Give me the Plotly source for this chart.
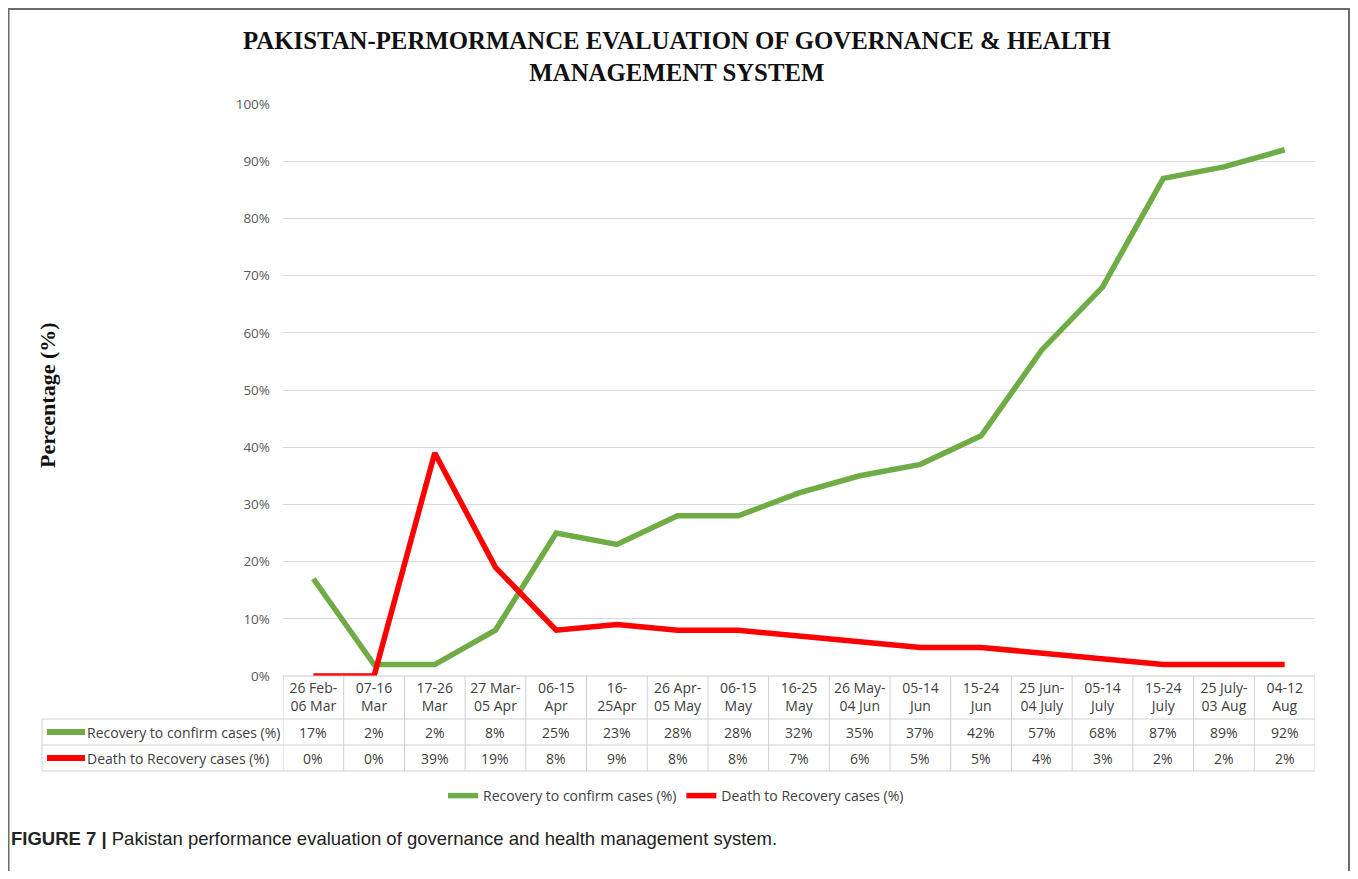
import plotly.graph_objects as go

# Page body has an 8px margin; draw the figure offset so the result lines up with the reference.
OFF = 8
W, H = 1358 - 2 * OFF, 879 - 2 * OFF

periods = ["26 Feb-<br>06 Mar", "07-16<br>Mar", "17-26<br>Mar", "27 Mar-<br>05 Apr", "06-15<br>Apr",
           "16-<br>25Apr", "26 Apr-<br>05 May", "06-15<br>May", "16-25<br>May", "26 May-<br>04 Jun",
           "05-14<br>Jun", "15-24<br>Jun", "25 Jun-<br>04 July", "05-14<br>July", "15-24<br>July",
           "25 July-<br>03 Aug", "04-12<br>Aug"]
recovery = [17, 2, 2, 8, 25, 23, 28, 28, 32, 35, 37, 42, 57, 68, 87, 89, 92]
death = [0, 0, 39, 19, 8, 9, 8, 8, 7, 6, 5, 5, 4, 3, 2, 2, 2]
series_names = ["Recovery to confirm cases (%)", "Death to Recovery cases (%)"]
series_colors = ["#6FAC46", "#FF0000"]
yticks = list(range(0, 101, 10))
yticktext = [f"{v}%" for v in yticks]

title_text = "<b>PAKISTAN-PERMORMANCE EVALUATION OF GOVERNANCE &amp; HEALTH<br>MANAGEMENT SYSTEM</b>"
ylabel = "Percentage (%)"
caption_bold = "FIGURE 7 |"
caption_rest = " Pakistan performance evaluation of governance and health management system."

def px(x):
    return (x - OFF) / W

def py(y):
    return 1 - (y - OFF) / H

TXT = "#404040"
TFONT = "'Open Sans', Lato, sans-serif"

fig = go.Figure()
for name, vals, col in zip(series_names, [recovery, death], series_colors):
    fig.add_trace(go.Scatter(x=list(range(len(periods))), y=vals, mode="lines", name=name,
                             line=dict(color=col, width=5.5), cliponaxis=False))

shapes = []
# frame (left, top, right edges)
frame_col = "#6b6b6b"
shapes.append(dict(type="line", xref="paper", yref="paper", x0=px(8.5), x1=px(8.5), y0=py(8), y1=0,
                   line=dict(color=frame_col, width=2)))
shapes.append(dict(type="line", xref="paper", yref="paper", x0=px(8), x1=1, y0=py(9), y1=py(9),
                   line=dict(color=frame_col, width=2)))
shapes.append(dict(type="line", xref="paper", yref="paper", x0=1 - 1.0 / W, x1=1 - 1.0 / W, y0=py(8), y1=0,
                   line=dict(color=frame_col, width=2)))
grid_col = "#d0d0d0"
n = len(periods)
for i in range(n + 1):
    shapes.append(dict(type="line", xref="x", yref="paper", x0=i - 0.5, x1=i - 0.5,
                       y0=py(676), y1=py(771), line=dict(color=grid_col, width=1)))
shapes.append(dict(type="line", xref="paper", yref="paper", x0=px(42), x1=px(42),
                   y0=py(719), y1=py(771), line=dict(color=grid_col, width=1)))
for yy in [719, 745, 771]:
    shapes.append(dict(type="line", xref="paper", yref="paper", x0=px(42), x1=px(1315),
                       y0=py(yy), y1=py(yy), line=dict(color=grid_col, width=1)))
shapes.append(dict(type="line", xref="paper", yref="paper", x0=px(283), x1=px(1315),
                   y0=py(676), y1=py(676), line=dict(color="#c8c8c8", width=1)))
for yy, col in zip([732, 758], series_colors):
    shapes.append(dict(type="line", xref="paper", yref="paper", x0=px(47), x1=px(85),
                       y0=py(yy), y1=py(yy), line=dict(color=col, width=6)))

annotations = []
annotations.append(dict(text=title_text, xref="paper", yref="paper", x=px(677), y=py(56),
                        xanchor="center", yanchor="middle", showarrow=False,
                        font=dict(family="'Liberation Serif', 'DejaVu Serif', serif", size=24.8, color="#111"),
                        align="center"))
annotations.append(dict(text="<b>" + ylabel + "</b>", xref="paper", yref="paper", x=px(47), y=py(395),
                        textangle=-90, showarrow=False, xanchor="center", yanchor="middle",
                        font=dict(family="'Liberation Serif', serif", size=22, color="#111")))
for ri, (vals, yy) in enumerate(zip([recovery, death], [732, 758])):
    annotations.append(dict(text=series_names[ri], xref="paper", yref="paper", x=px(85), y=py(yy),
                            xanchor="left", yanchor="middle", showarrow=False,
                            font=dict(family=TFONT, size=14, color=TXT)))
    for i, v in enumerate(vals):
        annotations.append(dict(text=f"{v}%", xref="x", yref="paper", x=i, y=py(yy),
                                xanchor="center", yanchor="middle", showarrow=False,
                                font=dict(family=TFONT, size=14, color=TXT)))
annotations.append(dict(text="<b>" + caption_bold + "</b>" + caption_rest, xref="paper", yref="paper",
                        x=px(9), y=py(838), xanchor="left", yanchor="middle", showarrow=False,
                        font=dict(family="'Liberation Sans', Arial, sans-serif", size=18.5, color="#222")))

fig.update_layout(
    template="none",
    width=W, height=H, autosize=False,
    margin=dict(l=0, r=0, t=0, b=0, pad=0, autoexpand=False),
    paper_bgcolor="white", plot_bgcolor="white",
    showlegend=True,
    legend=dict(orientation="h", x=px(676), xanchor="center", y=py(796), yanchor="middle",
                font=dict(family=TFONT, size=14, color=TXT), bgcolor="rgba(0,0,0,0)"),
    xaxis=dict(domain=[px(283), px(1315)], range=[-0.5, n - 0.5], automargin=False,
               tickmode="array", tickvals=list(range(n)), ticktext=periods,
               showgrid=False, zeroline=False, showline=False, ticks="",
               tickfont=dict(family=TFONT, size=14, color=TXT), ticklabelstandoff=2),
    yaxis=dict(domain=[py(676), py(104)], range=[0, 100], automargin=False,
               tickmode="array", tickvals=yticks, ticktext=yticktext,
               showgrid=True, gridcolor="#d9d9d9", gridwidth=1, zeroline=False, showline=False,
               tickfont=dict(family=TFONT, size=13.5, color="#595959"), ticks="", ticklabelstandoff=12),
    shapes=shapes, annotations=annotations,
)

fig.write_html("out.html")
